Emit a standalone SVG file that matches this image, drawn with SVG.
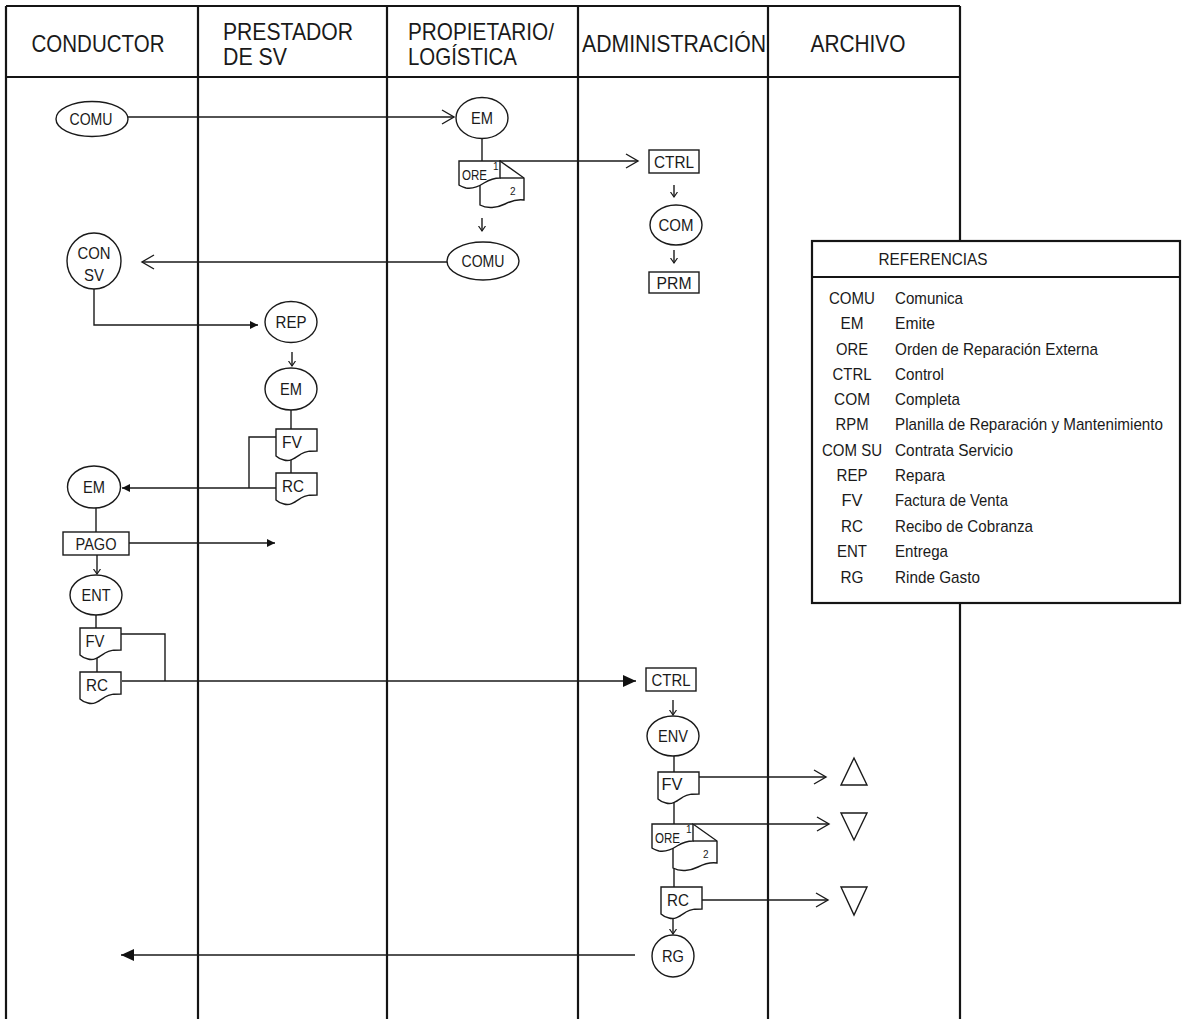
<svg xmlns="http://www.w3.org/2000/svg" width="1182" height="1019" viewBox="0 0 1182 1019">
<style>
text{font-family:"Liberation Sans Narrow","Arial Narrow","Liberation Sans",Arial,sans-serif;fill:#1a1a1a}
.grid{stroke:#151515;stroke-width:2.2;fill:none}
.hd{font-size:24px}
.nd{fill:#fff;stroke:#1a1a1a;stroke-width:1.4}
.lb{font-size:17px;text-anchor:middle}
.sm{font-size:10px}
.cn{fill:none;stroke:#1a1a1a;stroke-width:1.4}
.lg{font-size:17px}
.ab{font-size:17px;text-anchor:middle}
</style>
<defs>
<marker id="open" markerUnits="userSpaceOnUse" markerWidth="16" markerHeight="18" refX="13" refY="8" orient="auto">
<path d="M1,1 L13,8 L1,15" fill="none" stroke="#1a1a1a" stroke-width="1.4"/>
</marker>
<marker id="fillL" markerUnits="userSpaceOnUse" markerWidth="16" markerHeight="14" refX="13" refY="6" orient="auto">
<path d="M0,0 L13,6 L0,12 Z" fill="#111"/>
</marker>
<marker id="fillS" markerUnits="userSpaceOnUse" markerWidth="10" markerHeight="10" refX="8" refY="4" orient="auto">
<path d="M0,0 L8,4 L0,8 Z" fill="#111"/>
</marker>
<marker id="tick" markerUnits="userSpaceOnUse" markerWidth="8" markerHeight="10" refX="5" refY="4" orient="auto">
<path d="M0,0.5 L5,4 L0,7.5" fill="none" stroke="#1a1a1a" stroke-width="1.2"/>
</marker>
<path id="doc" d="M0,0 H41 V22 C34,22 30,22 25,25 C19,29 14,33 8,31 C4,30 1,28 0,27 Z"/>
</defs>
<rect width="1182" height="1019" fill="#fff"/>

<g id="table">
<path class="grid" d="M6,6 H960 M6,77 H960 M6,6 V1019 M198,6 V1019 M387,6 V1019 M578,6 V1019 M768,6 V1019 M960,6 V1019"/>
<text class="hd" x="98" y="52" text-anchor="middle" textLength="133" lengthAdjust="spacingAndGlyphs">CONDUCTOR</text>
<text class="hd" x="223" y="40" textLength="130" lengthAdjust="spacingAndGlyphs">PRESTADOR</text>
<text class="hd" x="223" y="65" textLength="64" lengthAdjust="spacingAndGlyphs">DE SV</text>
<text class="hd" x="408" y="40" textLength="146" lengthAdjust="spacingAndGlyphs">PROPIETARIO/</text>
<text class="hd" x="408" y="65" textLength="109" lengthAdjust="spacingAndGlyphs">LOGÍSTICA</text>
<text class="hd" x="674" y="52" text-anchor="middle" textLength="184" lengthAdjust="spacingAndGlyphs">ADMINISTRACIÓN</text>
<text class="hd" x="858" y="52" text-anchor="middle" textLength="95" lengthAdjust="spacingAndGlyphs">ARCHIVO</text>
</g>

<g id="connectors">
<line class="cn" x1="128" y1="117" x2="454" y2="117" marker-end="url(#open)"/>
<line class="cn" x1="482" y1="138" x2="482" y2="161"/>
<line class="cn" x1="500" y1="161" x2="638" y2="161" marker-end="url(#open)"/>
<line class="cn" x1="482" y1="218" x2="482" y2="231" marker-end="url(#tick)"/>
<line class="cn" x1="674" y1="185" x2="674" y2="197" marker-end="url(#tick)"/>
<line class="cn" x1="674" y1="250" x2="674" y2="263" marker-end="url(#tick)"/>
<line class="cn" x1="447" y1="262" x2="142" y2="262" marker-end="url(#open)"/>
<polyline class="cn" points="94,289 94,325 258,325" marker-end="url(#fillS)"/>
<line class="cn" x1="292" y1="352" x2="292" y2="366" marker-end="url(#tick)"/>
<line class="cn" x1="291" y1="410" x2="291" y2="429"/>
<line class="cn" x1="291" y1="455" x2="291" y2="473"/>
<polyline class="cn" points="276,437 249,437 249,488"/>
<line class="cn" x1="276" y1="488" x2="122" y2="488" marker-end="url(#fillS)"/>
<line class="cn" x1="96" y1="508" x2="96" y2="532"/>
<line class="cn" x1="129" y1="543" x2="275" y2="543" marker-end="url(#fillS)"/>
<line class="cn" x1="97" y1="555" x2="97" y2="574" marker-end="url(#tick)"/>
<line class="cn" x1="96" y1="615" x2="96" y2="628"/>
<line class="cn" x1="97" y1="655" x2="97" y2="672"/>
<polyline class="cn" points="121,634 165,634 165,681"/>
<line class="cn" x1="122" y1="681" x2="636" y2="681" marker-end="url(#fillL)"/>
<line class="cn" x1="673" y1="700" x2="673" y2="715" marker-end="url(#tick)"/>
<line class="cn" x1="674" y1="756" x2="674" y2="772"/>
<line class="cn" x1="699" y1="777" x2="826" y2="777" marker-end="url(#open)"/>
<line class="cn" x1="674" y1="798" x2="674" y2="824"/>
<line class="cn" x1="694" y1="824" x2="829" y2="824" marker-end="url(#open)"/>
<line class="cn" x1="674" y1="868" x2="674" y2="887"/>
<line class="cn" x1="701" y1="900" x2="828" y2="900" marker-end="url(#open)"/>
<line class="cn" x1="673" y1="915" x2="673" y2="934" marker-end="url(#tick)"/>
<line class="cn" x1="635" y1="955" x2="121" y2="955" marker-end="url(#fillL)"/>
</g>

<g id="n-comu1"><ellipse class="nd" cx="92" cy="119" rx="36" ry="17.5"/><text class="lb" x="91" y="125" textLength="43" lengthAdjust="spacingAndGlyphs">COMU</text></g>
<g id="n-em1"><ellipse class="nd" cx="482" cy="118" rx="26" ry="20.5"/><text class="lb" x="482" y="124" textLength="22" lengthAdjust="spacingAndGlyphs">EM</text></g>
<g id="n-ore1" transform="translate(459,161)">
<path class="nd" d="M41,0 L65,17 V39 C58,38 52,40 46,43 C38,47 28,48 21,44 V20 Z"/>
<path class="nd" d="M0,0 H41 V17 C34,17 30,19 25,22 C19,26 13,28 7,27 C4,26 1,25 0,24 Z"/>
<path class="cn" d="M41,17 H65"/>
<text x="3" y="19" font-size="14" textLength="25" lengthAdjust="spacingAndGlyphs">ORE</text>
<text class="sm" x="34" y="9">1</text>
<text class="sm" x="51" y="34">2</text>
</g>
<g id="n-ctrl1"><rect class="nd" x="649" y="150" width="50" height="23"/><text class="lb" x="674" y="168" textLength="40" lengthAdjust="spacingAndGlyphs">CTRL</text></g>
<g id="n-com"><ellipse class="nd" cx="676" cy="225" rx="26" ry="20"/><text class="lb" x="676" y="231" textLength="35" lengthAdjust="spacingAndGlyphs">COM</text></g>
<g id="n-prm"><rect class="nd" x="649" y="272" width="50" height="21"/><text class="lb" x="674" y="289" textLength="35" lengthAdjust="spacingAndGlyphs">PRM</text></g>
<g id="n-comu2"><ellipse class="nd" cx="483" cy="261" rx="36" ry="19"/><text class="lb" x="483" y="267" textLength="43" lengthAdjust="spacingAndGlyphs">COMU</text></g>
<g id="n-consv"><ellipse class="nd" cx="94" cy="261" rx="27" ry="28"/><text class="lb" x="94" y="259" textLength="33" lengthAdjust="spacingAndGlyphs">CON</text><text class="lb" x="94" y="281" textLength="20" lengthAdjust="spacingAndGlyphs">SV</text></g>
<g id="n-rep"><ellipse class="nd" cx="291" cy="322" rx="26" ry="20.5"/><text class="lb" x="291" y="328" textLength="31" lengthAdjust="spacingAndGlyphs">REP</text></g>
<g id="n-em2"><ellipse class="nd" cx="291" cy="389" rx="26" ry="21"/><text class="lb" x="291" y="395" textLength="22" lengthAdjust="spacingAndGlyphs">EM</text></g>
<g id="n-fv1" transform="translate(276,429)"><use href="#doc" class="nd"/><text class="lb" x="16" y="19" textLength="20" lengthAdjust="spacingAndGlyphs">FV</text></g>
<g id="n-rc1" transform="translate(276,473)"><use href="#doc" class="nd"/><text class="lb" x="17" y="19" textLength="22" lengthAdjust="spacingAndGlyphs">RC</text></g>
<g id="n-em3"><ellipse class="nd" cx="94" cy="487" rx="26.5" ry="21"/><text class="lb" x="94" y="493" textLength="22" lengthAdjust="spacingAndGlyphs">EM</text></g>
<g id="n-pago"><rect class="nd" x="63" y="532" width="66" height="23"/><text class="lb" x="96" y="550" textLength="41" lengthAdjust="spacingAndGlyphs">PAGO</text></g>
<g id="n-ent"><ellipse class="nd" cx="96" cy="595" rx="26" ry="20"/><text class="lb" x="96" y="601" textLength="29" lengthAdjust="spacingAndGlyphs">ENT</text></g>
<g id="n-fv2" transform="translate(80,628)"><use href="#doc" class="nd"/><text class="lb" x="15" y="19" textLength="19" lengthAdjust="spacingAndGlyphs">FV</text></g>
<g id="n-rc2" transform="translate(80,672)"><use href="#doc" class="nd"/><text class="lb" x="17" y="19" textLength="22" lengthAdjust="spacingAndGlyphs">RC</text></g>
<g id="n-ctrl2"><rect class="nd" x="646" y="668" width="50" height="23"/><text class="lb" x="671" y="686" textLength="39" lengthAdjust="spacingAndGlyphs">CTRL</text></g>
<g id="n-env"><ellipse class="nd" cx="673" cy="736" rx="26" ry="20"/><text class="lb" x="673" y="742" textLength="30" lengthAdjust="spacingAndGlyphs">ENV</text></g>
<g id="n-fv3" transform="translate(658,772)"><use href="#doc" class="nd"/><text class="lb" x="14" y="18" textLength="21" lengthAdjust="spacingAndGlyphs">FV</text></g>
<g id="n-ore2" transform="translate(652,824)">
<path class="nd" d="M41,0 L65,17 V39 C58,38 52,40 46,43 C38,47 28,48 21,44 V20 Z"/>
<path class="nd" d="M0,0 H41 V17 C34,17 30,19 25,22 C19,26 13,28 7,27 C4,26 1,25 0,24 Z"/>
<path class="cn" d="M41,17 H65"/>
<text x="3" y="19" font-size="14" textLength="25" lengthAdjust="spacingAndGlyphs">ORE</text>
<text class="sm" x="34" y="9">1</text>
<text class="sm" x="51" y="34">2</text>
</g>
<g id="n-rc3" transform="translate(661,887)"><use href="#doc" class="nd"/><text class="lb" x="17" y="19" textLength="22" lengthAdjust="spacingAndGlyphs">RC</text></g>
<g id="n-rg"><circle class="nd" cx="673" cy="956" r="21"/><text class="lb" x="673" y="962" textLength="22" lengthAdjust="spacingAndGlyphs">RG</text></g>
<g id="n-arch1"><polygon class="nd" points="841,785 867,785 854,758"/></g>
<g id="n-arch2"><polygon class="nd" points="841,813 867,813 854,840"/></g>
<g id="n-arch3"><polygon class="nd" points="841,887 867,887 854,915"/></g>

<g id="legend">
<rect x="812" y="241" width="368" height="362" fill="#fff" stroke="#151515" stroke-width="2.2"/>
<line x1="812" y1="277" x2="1180" y2="277" stroke="#151515" stroke-width="2"/>
<text class="lg" x="933" y="265" text-anchor="middle" textLength="109" lengthAdjust="spacingAndGlyphs">REFERENCIAS</text>
<text class="ab" x="852" y="304" textLength="46" lengthAdjust="spacingAndGlyphs">COMU</text><text class="lg" x="895" y="304" textLength="68" lengthAdjust="spacingAndGlyphs">Comunica</text>
<text class="ab" x="852" y="329" textLength="23" lengthAdjust="spacingAndGlyphs">EM</text><text class="lg" x="895" y="329" textLength="40" lengthAdjust="spacingAndGlyphs">Emite</text>
<text class="ab" x="852" y="355" textLength="32" lengthAdjust="spacingAndGlyphs">ORE</text><text class="lg" x="895" y="355" textLength="203" lengthAdjust="spacingAndGlyphs">Orden de Reparación Externa</text>
<text class="ab" x="852" y="380" textLength="39" lengthAdjust="spacingAndGlyphs">CTRL</text><text class="lg" x="895" y="380" textLength="49" lengthAdjust="spacingAndGlyphs">Control</text>
<text class="ab" x="852" y="405" textLength="36" lengthAdjust="spacingAndGlyphs">COM</text><text class="lg" x="895" y="405" textLength="65" lengthAdjust="spacingAndGlyphs">Completa</text>
<text class="ab" x="852" y="430" textLength="33" lengthAdjust="spacingAndGlyphs">RPM</text><text class="lg" x="895" y="430" textLength="268" lengthAdjust="spacingAndGlyphs">Planilla de Reparación y Mantenimiento</text>
<text class="ab" x="852" y="456" textLength="60" lengthAdjust="spacingAndGlyphs">COM SU</text><text class="lg" x="895" y="456" textLength="118" lengthAdjust="spacingAndGlyphs">Contrata Servicio</text>
<text class="ab" x="852" y="481" textLength="31" lengthAdjust="spacingAndGlyphs">REP</text><text class="lg" x="895" y="481" textLength="50" lengthAdjust="spacingAndGlyphs">Repara</text>
<text class="ab" x="852" y="506" textLength="21" lengthAdjust="spacingAndGlyphs">FV</text><text class="lg" x="895" y="506" textLength="113" lengthAdjust="spacingAndGlyphs">Factura de Venta</text>
<text class="ab" x="852" y="532" textLength="22" lengthAdjust="spacingAndGlyphs">RC</text><text class="lg" x="895" y="532" textLength="138" lengthAdjust="spacingAndGlyphs">Recibo de Cobranza</text>
<text class="ab" x="852" y="557" textLength="30" lengthAdjust="spacingAndGlyphs">ENT</text><text class="lg" x="895" y="557" textLength="53" lengthAdjust="spacingAndGlyphs">Entrega</text>
<text class="ab" x="852" y="583" textLength="23" lengthAdjust="spacingAndGlyphs">RG</text><text class="lg" x="895" y="583" textLength="85" lengthAdjust="spacingAndGlyphs">Rinde Gasto</text>
</g>
</svg>
